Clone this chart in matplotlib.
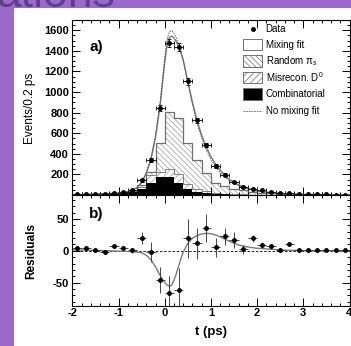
import numpy as np
import matplotlib.pyplot as plt
from matplotlib.patches import Rectangle
from matplotlib.lines import Line2D
from matplotlib.ticker import MultipleLocator

plt.rcParams['font.family'] = ['Liberation Sans', 'DejaVu Sans']
plt.rcParams['mathtext.fontset'] = 'custom'
plt.rcParams['mathtext.rm'] = 'Liberation Sans'
plt.rcParams['mathtext.it'] = 'Liberation Sans:italic'
plt.rcParams['axes.unicode_minus'] = False
plt.rcParams['hatch.linewidth'] = 0.5

# decay-time bins: 0.2 ps wide from -2 to 4 ps
t_lo, bin_w, n_bins = -2.0, 0.2, 30

# events per bin with errors
counts = [5, 7, 9, 14, 20, 27, 44, 142, 340, 845, 1480, 1440, 1105, 724, 486,
          284, 196, 128, 79, 63, 45, 33, 22, 18, 12, 9, 7, 5, 4, 3]
count_err = [2, 3, 3, 4, 4, 5, 7, 12, 18, 29, 38, 38, 33, 27, 22,
             17, 14, 11, 9, 8, 7, 6, 5, 4, 3, 3, 3, 2, 2, 2]

# background components (stacked)
combinatorial = [2, 2, 3, 4, 6, 15, 30, 60, 112, 172, 177, 115, 63, 32, 18,
                 10, 6, 4, 3, 2, 2, 1, 1, 1, 1, 0, 0, 0, 0, 0]
misrecon_d0 = [1, 1, 1, 1, 2, 3, 6, 15, 78, 53, 73, 90, 42, 23, 17,
               10, 6, 4, 3, 2, 1, 1, 1, 0, 0, 1, 0, 0, 0, 0]
random_pis = [1, 1, 1, 1, 2, 4, 6, 21, 36, 278, 555, 545, 401, 285, 180,
              100, 78, 55, 41, 29, 19, 13, 8, 6, 4, 3, 3, 2, 2, 1]

# residuals w.r.t. the no-mixing fit
resid = [3.8, 3.8, 0.6, -1.6, 7.4, 4.3, 1.1, 20, -1.6, -46, -67, -61.5, 19.5, 11.6, 35.8,
         5.3, 22.7, 17, 2.7, 19.5, 9, 7, 1.6, 10.6, 2, 1, 0.5, 0.5, 0.5, 0.5]
resid_err = [2, 2, 2, 2, 3, 3, 4, 9, 16, 20, 28, 35, 31, 25, 22,
             15, 14, 12, 7, 6, 5, 4, 3, 3, 2, 2, 2, 1, 1, 1]

# fit curves: mixing fit and (mixing - no mixing) difference
fit_t = [-2.0, -1.8, -1.6, -1.4, -1.2, -1.0, -0.9, -0.8, -0.7, -0.6, -0.5, -0.4, -0.3, -0.2,
         -0.1, -0.05, 0.0, 0.05, 0.1, 0.15, 0.2, 0.25, 0.3, 0.35, 0.4, 0.5, 0.6, 0.7,
         0.8, 0.9, 1.0, 1.1, 1.2, 1.4, 1.6, 1.8, 2.0, 2.3, 2.6, 3.0, 3.5, 4.0]
fit_mix = [4, 5, 7, 10, 14, 20, 25, 32, 45, 72, 122, 210, 342, 560,
           870, 1080, 1290, 1460, 1530, 1545, 1525, 1490, 1440, 1380, 1310, 1100, 900, 720,
           580, 465, 372, 300, 240, 152, 98, 64, 42, 22, 12, 6, 3, 1]
fit_diff = [1.5, 1.2, 0.8, 0.4, 0, -0.5, -0.7, -1, -1.2, -2, -3, -7, -14, -25,
            -39, -45, -50, -54, -56, -54, -46, -36, -24, -12, -2, 12, 20, 24,
            26.5, 27.5, 27, 25, 22, 15, 9, 6, 4, 2.5, 1, 0.3, 0, 0]

edges = t_lo + bin_w * np.arange(n_bins + 1)
centers = edges[:-1] + bin_w / 2
comb = np.array(combinatorial, float)
cum_mis = comb + np.array(misrecon_d0)
cum_rand = cum_mis + np.array(random_pis)
fit_nomix = np.array(fit_mix) - np.array(fit_diff)

W, H = 351, 346
fig = plt.figure(figsize=(W / 100, H / 100), dpi=100)
fig.patch.set_facecolor('#9b69cb')
fig.text(-4 / W, 1 - 7 / H, 'ations', fontsize=32, color='#5e3f8a',
         ha='left', va='baseline', zorder=-3)
fig.patches.append(Rectangle((14 / W, 0), 1, 1 - 8 / H, transform=fig.transFigure,
                             facecolor='white', edgecolor='none', zorder=-2))

ax1 = fig.add_axes([72.4 / W, 1 - 195 / H, 277.1 / W, 175 / H])
ax2 = fig.add_axes([72.4 / W, 1 - 306 / H, 277.1 / W, 111 / H])

hist_grey = '#707070'
hatch_grey = '#9a9a9a'
fit_grey = '#7a7a7a'
hatch_rand = '\\' * 6
hatch_mis = '/' * 5

# stacked backgrounds
ax1.bar(edges[:-1], random_pis, width=bin_w, bottom=cum_mis, align='edge',
        facecolor='white', edgecolor=hatch_grey, hatch=hatch_rand, linewidth=0)
ax1.bar(edges[:-1], misrecon_d0, width=bin_w, bottom=comb, align='edge',
        facecolor='white', edgecolor=hatch_grey, hatch=hatch_mis, linewidth=0)
ax1.stairs(cum_rand, edges, color=hist_grey, linewidth=0.9)
ax1.stairs(cum_mis, edges, color=hist_grey, linewidth=0.6)
ax1.bar(edges[:-1], comb, width=bin_w, align='edge', color='black', linewidth=0)

ax1.plot(fit_t, fit_mix, color=fit_grey, linewidth=1.0)
ax1.plot(fit_t, fit_nomix, color='#555555', linewidth=0.6, dashes=(2, 1.2))
ax1.errorbar(centers, counts, xerr=bin_w / 2, yerr=count_err, fmt='o', ms=2.5,
             color='black', ecolor='#222222', elinewidth=0.7, capsize=1.5, capthick=0.7)

ax1.set_xlim(-2, 4)
ax1.set_ylim(0, 1700)
ax1.set_yticks(range(200, 1601, 200))
ax1.yaxis.set_minor_locator(MultipleLocator(50))
ax1.set_ylabel('Events/0.2 ps', fontsize=8.5)
ax1.yaxis.set_label_coords(-0.131, 0.494)
ax1.text(0.06, 0.843, 'a)', transform=ax1.transAxes, fontsize=11,
         fontweight='bold', va='center')

# legend
bx, bw, bh, tx = 0.6157, 0.0686, 0.0669, 0.6976
rows = [0.949, 0.860, 0.766, 0.671, 0.577, 0.482]
ax1.plot([0.652], [rows[0]], 'o', ms=2.5, color='black', transform=ax1.transAxes)
box_styles = [dict(facecolor='white'),
              dict(facecolor='white', hatch=hatch_rand),
              dict(facecolor='white', hatch=hatch_mis),
              dict(facecolor='black')]
for y, st in zip(rows[1:5], box_styles):
    ax1.add_patch(Rectangle((bx, y - bh / 2), bw, bh, transform=ax1.transAxes,
                            edgecolor=hist_grey, linewidth=0.7, **st))
ax1.add_line(Line2D([bx, bx + bw], [rows[5]] * 2, transform=ax1.transAxes,
                    color='#555555', linewidth=0.6, dashes=(2, 1.2)))
labels = ['Data', 'Mixing fit', r'Random π$_{\mathrm{s}}$', r'Misrecon. D$^{\mathrm{0}}$',
          'Combinatorial', 'No mixing fit']
for y, lab in zip(rows, labels):
    ax1.text(tx, y, lab, transform=ax1.transAxes, fontsize=7, va='center')

# residuals panel
ax2.axhline(0, color='black', linewidth=0.6, dashes=(3, 2))
ax2.plot(fit_t, fit_diff, color=fit_grey, linewidth=1.0)
ax2.errorbar(centers, resid, xerr=bin_w / 2, yerr=resid_err, fmt='o', ms=2.5,
             color='black', ecolor='#444444', elinewidth=0.7, capsize=0)
ax2.set_xlim(-2, 4)
ax2.set_ylim(-87, 88)
ax2.set_yticks([-50, 0, 50])
ax2.yaxis.set_minor_locator(MultipleLocator(10))
ax2.set_xticks(range(-2, 5))
ax2.set_ylabel('Residuals', fontsize=8.5, fontweight='bold')
ax2.yaxis.set_label_coords(-0.126, 0.491)
ax2.set_xlabel('t (ps)', fontsize=9.5, fontweight='bold')
ax2.xaxis.set_label_coords(0.5, -0.176)
ax2.text(0.06, 0.829, 'b)', transform=ax2.transAxes, fontsize=11,
         fontweight='bold', va='center')

for ax in (ax1, ax2):
    ax.xaxis.set_minor_locator(MultipleLocator(0.2))
    ax.tick_params(which='both', direction='in', top=True, right=True, width=0.7,
                   labelsize=8, pad=2.5)
    ax.tick_params(which='major', length=5.5)
    ax.tick_params(which='minor', length=2.5)
    for sp in ax.spines.values():
        sp.set_linewidth(0.8)
    for lbl in ax.get_xticklabels() + ax.get_yticklabels():
        lbl.set_fontweight('bold')
ax1.tick_params(labelbottom=False)
ax2.tick_params(axis='x', pad=1.5)

fig.savefig('out.png', dpi=100)
